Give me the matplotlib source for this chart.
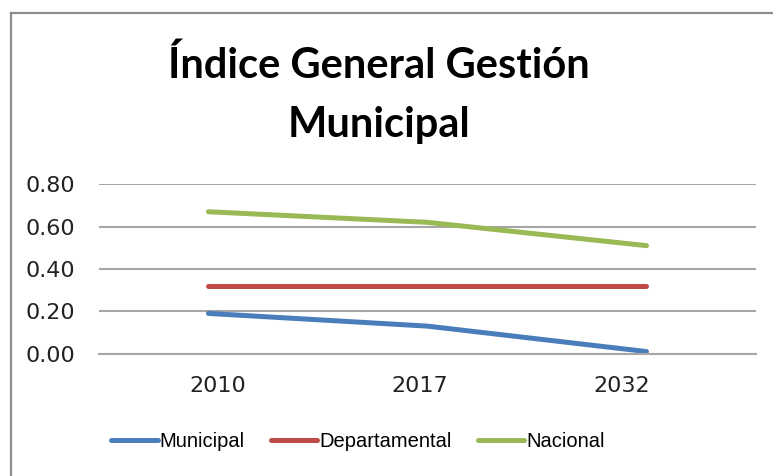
import matplotlib
matplotlib.use('Agg')
import matplotlib.pyplot as plt
import matplotlib.transforms as mtransforms
from matplotlib.lines import Line2D

# data
years = ['2010', '2017', '2032']
municipal = [0.19, 0.13, 0.01]
departamental = [0.32, 0.32, 0.32]
nacional = [0.67, 0.62, 0.51]

fig = plt.figure(figsize=(7.73, 4.76), dpi=100)
ax = fig.add_axes([0.128, 0.257, 0.85, 0.356])

x = range(len(years))
ax.plot(x, municipal, color='#4a7ebb', lw=3.6, solid_capstyle='round', label='Municipal')
ax.plot(x, departamental, color='#be4b48', lw=3.6, solid_capstyle='round', label='Departamental')
ax.plot(x, nacional, color='#98b954', lw=3.6, solid_capstyle='round', label='Nacional')

ax.set_xlim(-0.5, 2.5)
ax.set_ylim(0, 0.8)
ax.set_yticks([0, 0.2, 0.4, 0.6, 0.8])
ax.set_yticklabels(['0.00', '0.20', '0.40', '0.60', '0.80'])
ax.set_xticks(list(x))
ax.set_xticklabels(years)
ax.tick_params(length=0, labelsize=16, colors='#222222')
ax.tick_params(axis='y', pad=17)
ax.tick_params(axis='x', pad=16)
for lab in ax.get_xticklabels() + ax.get_yticklabels():
    lab.set_family('DejaVu Sans')
# category labels sit a little off the data points in the original
for lab, dx in zip(ax.get_xticklabels(), [9, -8, -25]):
    lab.set_transform(lab.get_transform() + mtransforms.ScaledTranslation(dx / 100, 0, fig.dpi_scale_trans))
ax.grid(axis='y', color='#a6a6a6', lw=1.5)
ax.set_axisbelow(True)
for s in ['left', 'right', 'top']:
    ax.spines[s].set_visible(False)
ax.spines['bottom'].set_color('#a6a6a6')
ax.spines['bottom'].set_linewidth(1.5)

fig.text(0.49, 0.801, 'Índice General Gestión\nMunicipal', ha='center', va='center',
         fontsize=30, fontweight='bold', family=['Lato', 'DejaVu Sans'],
         linespacing=1.66)

leg = fig.legend(loc='center', bbox_to_anchor=(0.463, 0.072), ncol=3, frameon=False,
                 prop={'family': ['Liberation Sans Narrow', 'Liberation Sans', 'DejaVu Sans'], 'size': 14.5},
                 handlelength=2.3, handletextpad=0.1, columnspacing=1.3)

# chart border (only left and top edges are inside the picture)
fig.add_artist(Line2D([11 / 773, 11 / 773], [0, 1 - 13 / 476], color='#8c8c8c', lw=1.6))
fig.add_artist(Line2D([11 / 773, 1], [1 - 13 / 476, 1 - 13 / 476], color='#8c8c8c', lw=1.6))

fig.savefig('out.png', dpi=100)
